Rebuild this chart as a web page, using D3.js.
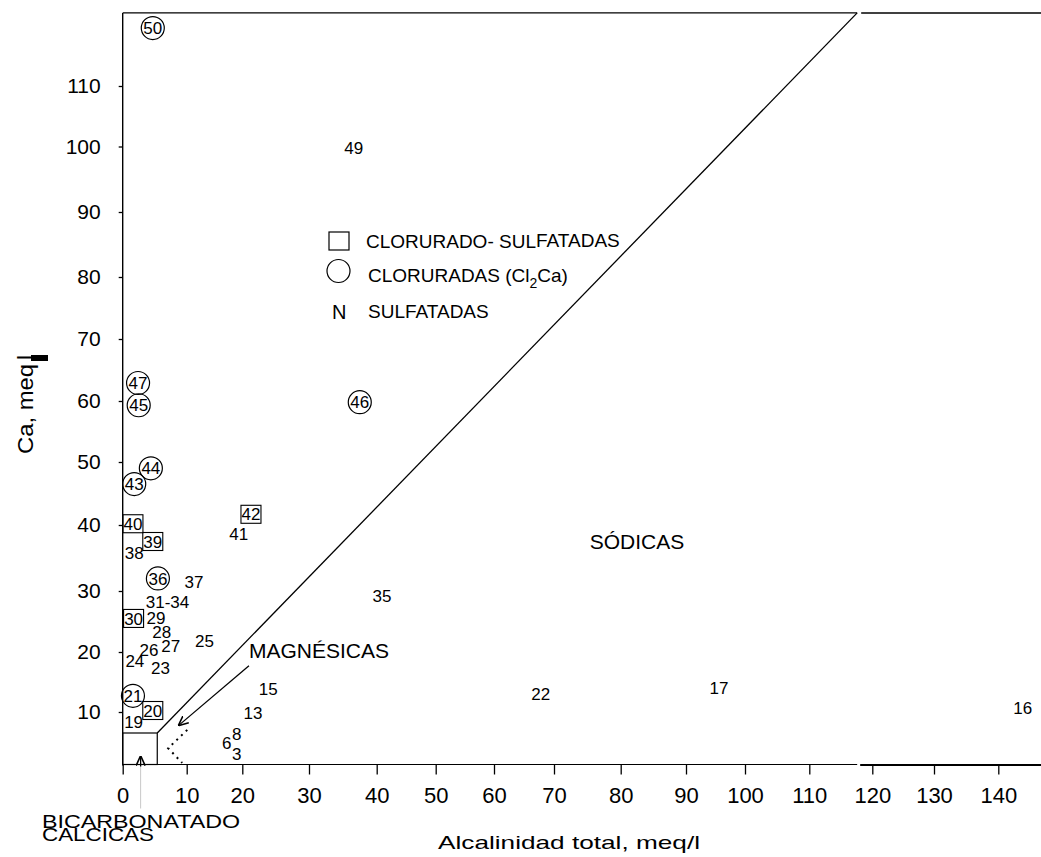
<!DOCTYPE html>
<html><head><meta charset="utf-8">
<script src="https://cdn.jsdelivr.net/npm/d3@7"></script>
<style>
body{margin:0;background:#fff}
svg{display:block}
text{font-family:"Liberation Sans",Arial,sans-serif;fill:#000}
</style>
</head><body>
<svg id="chart" width="1041" height="857"></svg>
<script>
// ---------- data ----------
const xTickValues = [0,10,20,30,40,50,60,70,80,90,100,110,120,130,140];
const yTickValues = [10,20,30,40,50,60,70,80,90,100,110];
const pointLabels = ["50","49","47","45","46","44","43","42","41","40","39","38","36","37","31-34","35","30","29","28","27","26","25","24","23","21","20","19","15","13","22","17","16","8","6","3"];
const pointKinds  = ["circle","none","circle","circle","circle","circle","circle","square","none","square","square","none","circle","none","none","none","square","none","none","none","none","none","none","none","circle","square","none","none","none","none","none","none","none","none","none"];
const alcalinidad = [4.7,36.6,2.4,2.5,37.5,4.4,1.8,21.3,19.35,1.6,4.7,1.8,5.5,11.3,7.0,40.9,1.7,5.2,6.1,7.5,4.1,13.2,1.9,5.9,1.6,4.7,1.7,23.9,21.6,67.8,95.6,143.8,19.0,17.2,19.0];
const calcio      = [119.2,99.8,62.9,59.3,59.8,49.0,46.5,41.7,38.6,40.2,37.5,35.8,31.9,31.4,28.2,29.2,25.5,25.6,23.3,21.0,20.4,21.9,18.6,17.3,12.7,10.25,8.15,13.8,9.9,13.0,13.95,10.7,5.9,4.15,2.1];
const boundaryLine = [[5.4,6.0],[117.6,121.6]];
const boxCorner = [5.4,6.0];
const dottedLine = [[10.1,6.6],[7.1,3.1],[9.3,0.3]];
const magArrow = [[21.0,17.7],[8.8,7.5]];
const bicArrowX = 2.8, bicArrowTip = 1.5;
const yTop = 121.6, xMax = 147;

// ---------- scales (calibrated on the scanned axis) ----------
const x = d3.scaleLinear()
  .domain([0,10,20,30,40,50,60,70,80,90,100,110,120,130,140])
  .range([122.7,186.7,242.3,309,376.7,435.7,494,554,620.7,686,745,809.3,872.3,934,998.3]);
const y = d3.scaleLinear()
  .domain([0,10,20,30,40,50,60,70,80,90,100,110,120])
  .range([764.5,712,652,591,525,462,401,339,277,212,146.5,86,23]);

const svg = d3.select("#chart");
const ink = "#000";

// frame
const x0 = x(0), y0 = y(0), yT = y(yTop), xR = x(xMax), xBreak = x(117.6);
svg.append("line").attr("x1",x0).attr("x2",x0).attr("y1",yT).attr("y2",y0+1).attr("stroke",ink).attr("stroke-width",1.4);
svg.append("line").attr("x1",x0).attr("x2",xBreak).attr("y1",yT).attr("y2",yT).attr("stroke",ink).attr("stroke-width",1.3);
svg.append("line").attr("x1",xBreak+4).attr("x2",xR).attr("y1",yT).attr("y2",yT).attr("stroke",ink).attr("stroke-width",1.5);
svg.append("line").attr("x1",x0).attr("x2",xBreak).attr("y1",y0).attr("y2",y0).attr("stroke",ink).attr("stroke-width",1.2);
svg.append("line").attr("x1",xBreak+3).attr("x2",xR).attr("y1",y0+0.5).attr("y2",y0+0.5).attr("stroke",ink).attr("stroke-width",2);

// axes
const gx = svg.append("g").attr("transform",`translate(0,${y0})`)
  .call(d3.axisBottom(x).tickValues(xTickValues).tickSize(10).tickPadding(13).tickFormat(d3.format("d")));
gx.select(".domain").remove();
gx.selectAll("line").attr("stroke",ink).attr("stroke-width",1.3);
gx.selectAll("text").attr("font-size",22).attr("font-family",'"Liberation Sans",Arial,sans-serif').attr("fill",ink);

const gy = svg.append("g").attr("transform",`translate(${x0},0)`)
  .call(d3.axisLeft(y).tickValues(yTickValues).tickSize(4).tickPadding(18).tickFormat(d3.format("d")));
gy.select(".domain").remove();
gy.selectAll("line").attr("stroke",ink).attr("stroke-width",1.3);
gy.selectAll("text").attr("font-size",21).attr("font-family",'"Liberation Sans",Arial,sans-serif').attr("fill",ink);

// boundary line and box
svg.append("path").attr("d",d3.line().x(d=>x(d[0])).y(d=>y(d[1]))(boundaryLine))
  .attr("fill","none").attr("stroke",ink).attr("stroke-width",1.3);
svg.append("rect").attr("x",x(0)).attr("y",y(boxCorner[1])).attr("width",x(boxCorner[0])-x(0)).attr("height",y(0)-y(boxCorner[1]))
  .attr("fill","none").attr("stroke",ink).attr("stroke-width",1.2);
svg.append("path").attr("d",d3.line().x(d=>x(d[0])).y(d=>y(d[1]))(dottedLine))
  .attr("fill","none").attr("stroke",ink).attr("stroke-width",2).attr("stroke-dasharray","2 4.5");

// arrows
const defs = svg.append("defs");
defs.append("marker").attr("id","ah").attr("viewBox","0 0 10 10").attr("refX",9).attr("refY",5)
  .attr("markerWidth",10).attr("markerHeight",10).attr("markerUnits","userSpaceOnUse").attr("orient","auto")
  .append("path").attr("d","M0,0.5 L10,5 L0,9.5").attr("fill","none").attr("stroke",ink).attr("stroke-width",1.6);
svg.append("line").attr("x1",x(magArrow[0][0])).attr("y1",y(magArrow[0][1])).attr("x2",x(magArrow[1][0])).attr("y2",y(magArrow[1][1]))
  .attr("stroke",ink).attr("stroke-width",1.3).attr("marker-end","url(#ah)");
svg.append("line").attr("x1",x(bicArrowX)).attr("x2",x(bicArrowX)).attr("y1",y0).attr("y2",y0+44)
  .attr("stroke","#c8c8c8").attr("stroke-width",1);
svg.append("line").attr("x1",x(bicArrowX)).attr("x2",x(bicArrowX)).attr("y1",y0+2).attr("y2",y(bicArrowTip))
  .attr("stroke",ink).attr("stroke-width",1.3).attr("marker-end","url(#ah)");

// points
const pts = svg.append("g").selectAll("g").data(pointLabels.map((l,i)=>({l,k:pointKinds[i],a:alcalinidad[i],c:calcio[i]})))
  .join("g").attr("transform",d=>`translate(${x(d.a)},${y(d.c)})`);
pts.filter(d=>d.k==="circle").append("circle").attr("r",11.5).attr("fill","none").attr("stroke",ink).attr("stroke-width",1.2);
pts.filter(d=>d.k==="square").append("rect").attr("x",-10).attr("y",-9).attr("width",20).attr("height",18).attr("fill","none").attr("stroke",ink).attr("stroke-width",1.1);
pts.append("text").attr("text-anchor","middle").attr("dy","0.36em").attr("font-size",17).text(d=>d.l);

// legend
const lg = svg.append("g");
lg.append("rect").attr("x",329).attr("y",232).attr("width",20).attr("height",18).attr("fill","none").attr("stroke",ink).attr("stroke-width",1.2);
const t1 = lg.append("text").attr("x",366).attr("y",248).attr("font-size",19);
t1.append("tspan").text("CLORURADO- SUL");
t1.append("tspan").attr("dy",-1).text("FATADAS");
lg.append("circle").attr("cx",338.5).attr("cy",271).attr("r",11.5).attr("fill","none").attr("stroke",ink).attr("stroke-width",1.2);
const t2 = lg.append("text").attr("x",368).attr("y",282).attr("font-size",19);
t2.append("tspan").text("CLORURADAS (Cl");
t2.append("tspan").attr("dy",6).attr("font-size",14).text("2");
t2.append("tspan").attr("dy",-6).text("Ca)");
lg.append("text").attr("x",332).attr("y",319).attr("font-size",20).text("N");
lg.append("text").attr("x",368).attr("y",318).attr("font-size",19).text("SULFATADAS");

// region labels
svg.append("text").attr("x",249).attr("y",658).attr("font-size",21).text("MAGNÉSICAS");
svg.append("text").attr("x",637).attr("y",549).attr("text-anchor","middle").attr("font-size",21).text("SÓDICAS");

// axis titles
svg.append("text").attr("x",569).attr("y",849).attr("text-anchor","middle").attr("font-size",19)
  .attr("textLength",262).attr("lengthAdjust","spacingAndGlyphs").text("Alcalinidad total, meq/l");
svg.append("text").attr("x",42).attr("y",828).attr("font-size",18)
  .attr("textLength",198).attr("lengthAdjust","spacingAndGlyphs").text("BICARBONATADO");
svg.append("text").attr("x",42).attr("y",841).attr("font-size",18)
  .attr("textLength",112).attr("lengthAdjust","spacingAndGlyphs").text("CALCICAS");
const yl = svg.append("text").attr("transform","translate(33,454) rotate(-90)").attr("font-size",22);
yl.append("tspan").attr("textLength",90).attr("lengthAdjust","spacingAndGlyphs").text("Ca, meq");
yl.append("tspan").attr("dx",4).text("l");
svg.append("rect").attr("x",31).attr("y",355).attr("width",17).attr("height",6).attr("fill",ink);
</script>
</body></html>
